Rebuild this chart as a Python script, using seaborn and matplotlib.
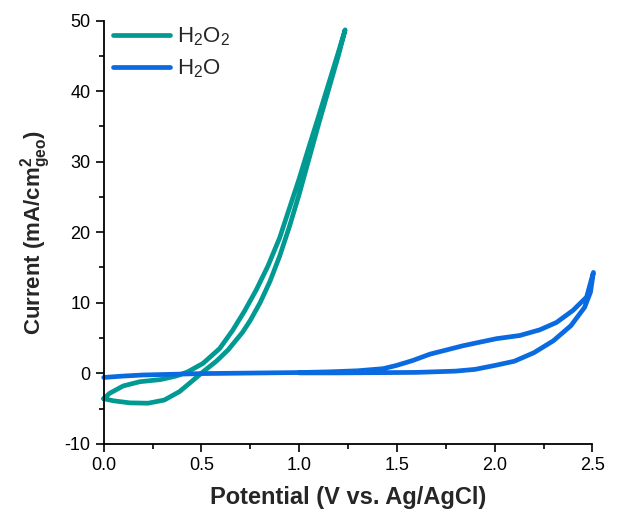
import numpy as np
import pandas as pd
import matplotlib
matplotlib.use("Agg")
import matplotlib.pyplot as plt
from matplotlib.ticker import MultipleLocator
import seaborn as sns

# H2O2 loop: anodic sweep then return sweep
h2o2_v_fwd = [0.0, 0.03, 0.1, 0.185, 0.29, 0.37, 0.43, 0.508, 0.593, 0.66, 0.72, 0.78, 0.84,
              0.9, 0.95, 1.0, 1.05, 1.1, 1.15, 1.2, 1.235]
h2o2_i_fwd = [-3.6, -2.85, -1.8, -1.2, -0.9, -0.4, 0.2, 1.4, 3.5, 6.1, 8.8, 11.8, 15.2,
              19.2, 23.4, 27.6, 32.1, 36.5, 41.0, 45.5, 48.7]
h2o2_v_rev = [1.235, 1.2, 1.15, 1.1, 1.05, 1.0, 0.95, 0.9, 0.85, 0.8, 0.75, 0.71, 0.636,
              0.576, 0.508, 0.457, 0.388, 0.31, 0.227, 0.133, 0.048, 0.0]
h2o2_i_rev = [48.7, 45.0, 40.2, 35.4, 30.4, 25.4, 20.8, 16.6, 13.0, 10.0, 7.5, 5.8, 3.3,
              1.7, 0.2, -1.0, -2.6, -3.8, -4.25, -4.2, -3.9, -3.6]

# H2O loop
h2o_v_fwd = [0.0, 0.1, 0.2, 0.5, 1.0, 1.156, 1.3, 1.43, 1.497, 1.58, 1.668, 1.753, 1.838,
             1.923, 2.009, 2.128, 2.23, 2.316, 2.4, 2.47, 2.505]
h2o_i_fwd = [-0.6, -0.4, -0.25, -0.05, 0.1, 0.2, 0.35, 0.65, 1.1, 1.8, 2.7, 3.3, 3.9,
             4.4, 4.9, 5.35, 6.15, 7.2, 8.9, 10.8, 14.3]
h2o_v_rev = [2.505, 2.49, 2.46, 2.39, 2.3, 2.2, 2.1, 2.0, 1.9, 1.8, 1.6, 1.4, 1.2, 1.0]
h2o_i_rev = [14.3, 11.5, 9.35, 6.75, 4.6, 2.9, 1.7, 1.1, 0.55, 0.3, 0.12, 0.08, 0.05, 0.05]

df = pd.concat([
    pd.DataFrame({"V": h2o2_v_fwd + h2o2_v_rev, "I": h2o2_i_fwd + h2o2_i_rev, "sample": "H2O2"}),
    pd.DataFrame({"V": h2o_v_fwd + h2o_v_rev, "I": h2o_i_fwd + h2o_i_rev, "sample": "H2O"}),
], ignore_index=True)

sns.set_style("ticks")
plt.rcParams["font.family"] = ["Liberation Sans", "DejaVu Sans"]
plt.rcParams["mathtext.fontset"] = "custom"
plt.rcParams["mathtext.rm"] = "Liberation Sans"
plt.rcParams["mathtext.bf"] = "Liberation Sans:bold"
plt.rcParams["axes.unicode_minus"] = False

fig = plt.figure(figsize=(6.21, 5.16), dpi=100)
ax = fig.add_axes([0.167, 0.14, 0.787, 0.82])

palette = {"H2O2": "#009a93", "H2O": "#0a6ae0"}
sns.lineplot(data=df, x="V", y="I", hue="sample", palette=palette, sort=False,
             estimator=None, lw=3.4, ax=ax, solid_capstyle="round", solid_joinstyle="round")
for ln in ax.lines:
    ln.set_clip_on(False)

ax.set_xlim(0, 2.5)
ax.set_ylim(-10, 50)
ax.xaxis.set_major_locator(MultipleLocator(0.5))
ax.xaxis.set_minor_locator(MultipleLocator(0.25))
ax.yaxis.set_major_locator(MultipleLocator(10))
ax.yaxis.set_minor_locator(MultipleLocator(5))
ax.tick_params(which="major", direction="out", length=6, width=1.2, labelsize=13,
               color="black", labelcolor="black")
ax.tick_params(which="minor", direction="out", length=3.5, width=1.2, color="black")
for s in ["left", "bottom"]:
    ax.spines[s].set_linewidth(1.3)
    ax.spines[s].set_color("black")
sns.despine(ax=ax)

ax.set_xlabel("Potential (V vs. Ag/AgCl)", fontsize=17, fontweight="bold", labelpad=9)
ax.set_ylabel(r"Current (mA/cm$\mathbf{^2_{geo}}$)", fontsize=16, fontweight="bold", labelpad=8)

handles, labels = ax.get_legend_handles_labels()
ax.legend(handles, [r"H$_2$O$_2$", r"H$_2$O"], loc="upper left", frameon=False,
          fontsize=16, handlelength=2.6, handletextpad=0.3, labelspacing=0.45,
          borderaxespad=0.0, bbox_to_anchor=(0.0, 1.01))

fig.savefig("out.png", dpi=100)
